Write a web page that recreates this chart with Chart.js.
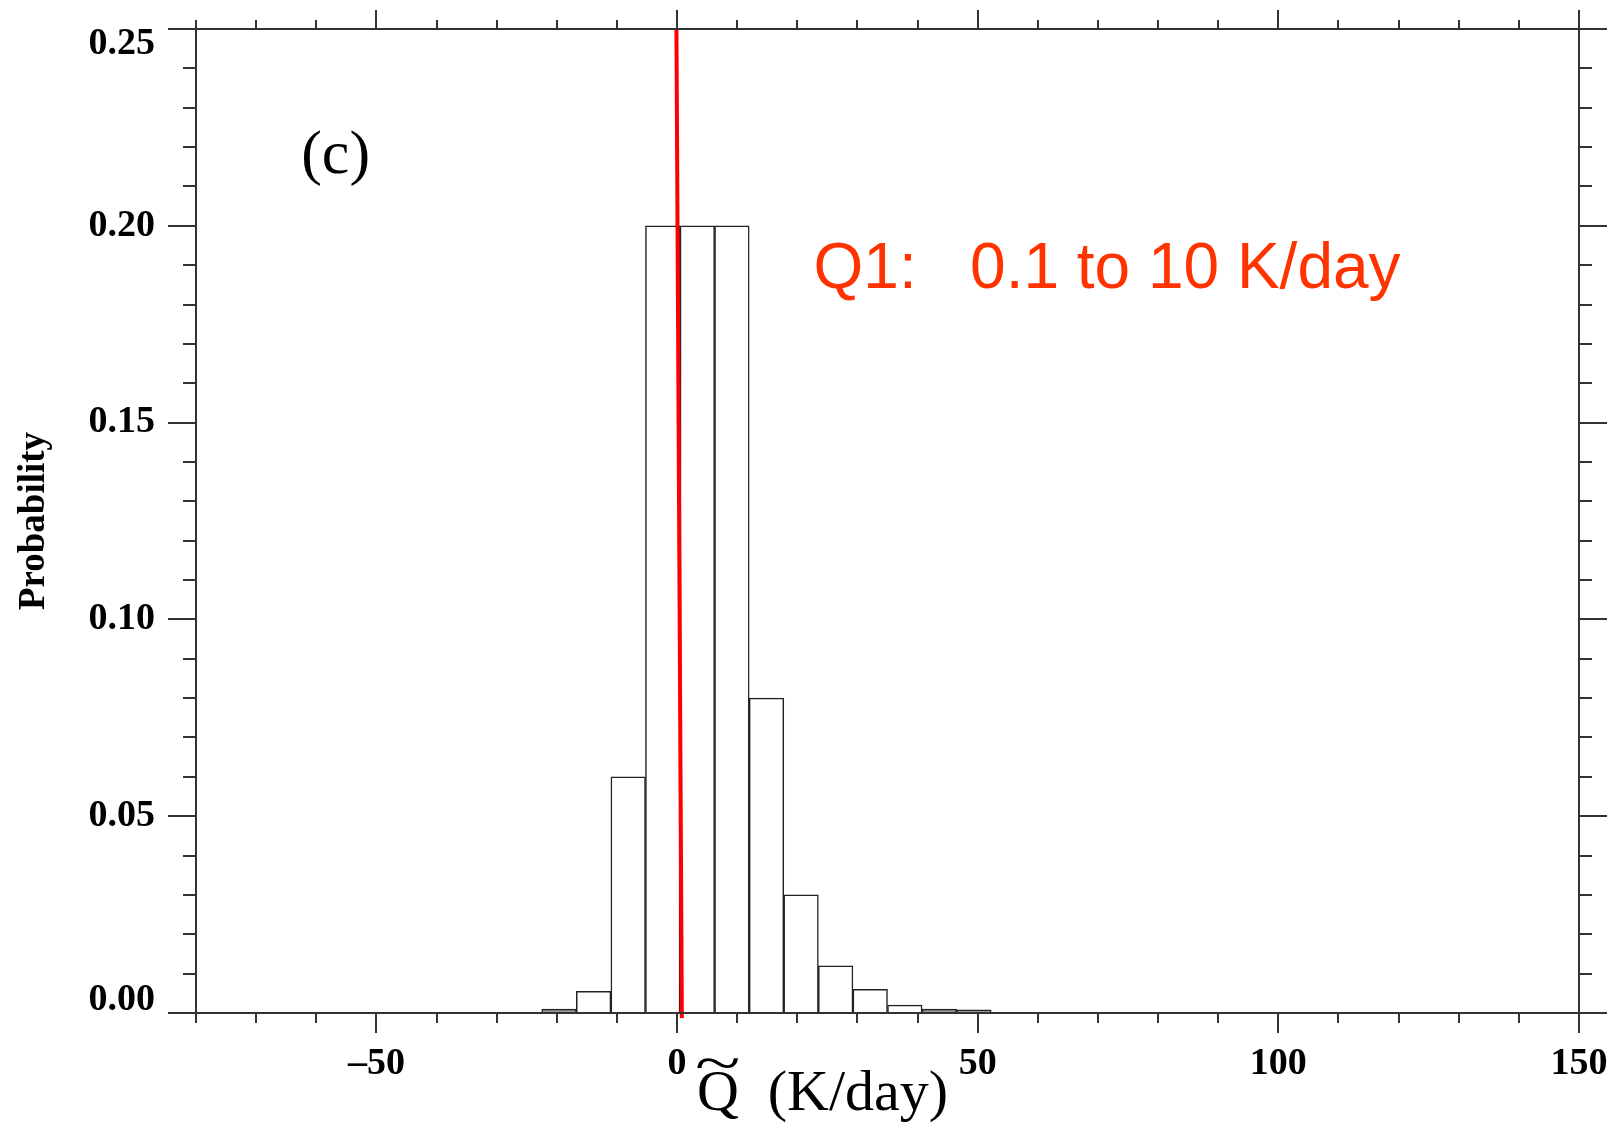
<!DOCTYPE html>
<html>
<head>
<meta charset="utf-8">
<script src="https://cdn.jsdelivr.net/npm/chart.js@4/dist/chart.umd.min.js"></script>
<style>
    html, body { margin: 0; padding: 0; background: #fff; }
    canvas { display: block; }
</style>
</head>
<body>
<canvas id="chart" width="1614" height="1128"></canvas>
<script>
// histogram bins (centres, K/day), bin width 5.75
const binCenters = [-19.625, -13.875, -8.125, -2.375, 3.375, 9.125, 14.875, 20.625, 26.375, 32.125, 37.875, 43.625, 49.375];
const probability = [0.001, 0.0055, 0.060, 0.200, 0.200, 0.200, 0.080, 0.030, 0.012, 0.006, 0.002, 0.001, 0.0008];

// red marker line
const markerX = [-0.1, 0.8];
const markerY = [0.25, -0.0013];

const xMajorTicks = [-50, 0, 50, 100, 150];
const yMajorTicks = [0, 0.05, 0.10, 0.15, 0.20, 0.25];

const panelLabel = '(c)';
const noteText = 'Q1:   0.1 to 10 K/day';
const xTitleSymbol = 'Q';
const xTitleUnit = '  (K/day)';
const yTitle = 'Probability';

const AXIS_COLOR = '#333';
const SERIF = '"Liberation Serif", "Times New Roman", serif';
const SANS = '"Liberation Sans", Arial, sans-serif';

function isMajorX(v) {
    return xMajorTicks.includes(Math.round(v));
}

function isMajorY(v) {
    return yMajorTicks.some((m) => Math.abs(m - v) < 1e-6);
}

// frame on four sides, ticks pointing outwards
const frameTicks = {
    id: 'frameTicks',
    afterDatasetsDraw(chart) {
        const { ctx, chartArea: a, scales: { x, y } } = chart;

        ctx.save();
        ctx.strokeStyle = AXIS_COLOR;
        ctx.lineWidth = 2;
        ctx.beginPath();
        ctx.rect(a.left, a.top, a.right - a.left, a.bottom - a.top);

        x.ticks.forEach((t) => {
            const px = Math.round(x.getPixelForValue(t.value));
            const major = isMajorX(t.value);

            ctx.moveTo(px, a.bottom);
            ctx.lineTo(px, a.bottom + (major ? 20 : 10));
            ctx.moveTo(px, a.top);
            ctx.lineTo(px, a.top - (major ? 19 : 9));
        });

        y.ticks.forEach((t) => {
            const py = Math.round(y.getPixelForValue(t.value));
            const len = isMajorY(t.value) ? 28 : 13;

            ctx.moveTo(a.left, py);
            ctx.lineTo(a.left - len, py);
            ctx.moveTo(a.right, py);
            ctx.lineTo(a.right + len, py);
        });

        ctx.stroke();
        ctx.restore();
    },
    afterDraw(chart) {
        const { ctx, scales: { x, y } } = chart;

        ctx.save();
        ctx.textBaseline = 'alphabetic';
        ctx.textAlign = 'left';

        ctx.fillStyle = '#000';
        ctx.font = `62px ${SERIF}`;
        ctx.fillText(panelLabel, x.getPixelForValue(-62.5), y.getPixelForValue(0.2134));

        // x title: Q with a wide tilde over it, then the unit
        const titleX = x.getPixelForValue(3.3);
        ctx.font = `58px ${SERIF}`;
        ctx.fillText(xTitleSymbol, titleX, 1110);
        const qWidth = ctx.measureText(xTitleSymbol).width;
        ctx.fillText(xTitleUnit, titleX + qWidth, 1110);

        ctx.save();
        ctx.translate(titleX + qWidth / 2, 1082);
        ctx.scale(1.45, 1);
        ctx.textAlign = 'center';
        ctx.fillText('~', 0, 0);
        ctx.restore();

        ctx.fillStyle = '#ff3300';
        ctx.font = `64px ${SANS}`;
        ctx.fillText(noteText, x.getPixelForValue(22.7), y.getPixelForValue(0.1843));

        ctx.restore();
    },
};

const tickFont = { family: SERIF, size: 38, weight: 'bold' };

new Chart(document.getElementById('chart'), {
    type: 'bar',
    data: {
        datasets: [
            {
                type: 'line',
                data: markerX.map((v, i) => ({ x: v, y: markerY[i] })),
                borderColor: '#ff0000',
                borderWidth: 4,
                pointRadius: 0,
                clip: false,
                order: 0,
            },
            {
                data: binCenters.map((v, i) => ({ x: v, y: probability[i] })),
                backgroundColor: (c) => (c.raw && c.raw.y < 0.0015 ? '#999' : '#fff'),
                borderColor: '#222',
                borderWidth: 1.5,
                barPercentage: 1,
                categoryPercentage: 1,
                order: 1,
            },
        ],
    },
    options: {
        responsive: false,
        animation: false,
        devicePixelRatio: 1,
        layout: {
            padding: { left: 0, right: 35, top: 29, bottom: 0 },
        },
        plugins: {
            legend: { display: false },
            tooltip: { enabled: false },
        },
        scales: {
            x: {
                type: 'linear',
                min: -80,
                max: 150,
                offset: false,
                grid: { display: false, drawTicks: false, offset: false },
                border: { display: false },
                ticks: {
                    stepSize: 10,
                    autoSkip: false,
                    maxRotation: 0,
                    padding: 28,
                    color: '#000',
                    font: tickFont,
                    callback: (v) => (isMajorX(v) ? String(Math.round(v)).replace('-', '\u2013') : ''),
                },
                afterFit: (scale) => {
                    scale.height = 115;
                    scale.paddingLeft = 0;
                    scale.paddingRight = 0;
                },
            },
            y: {
                min: 0,
                max: 0.25,
                grid: { display: false, drawTicks: false },
                border: { display: false },
                ticks: {
                    stepSize: 0.01,
                    autoSkip: false,
                    padding: 41,
                    color: '#000',
                    font: (c) => {
                        const v = c.tick ? c.tick.value : 0.1;
                        if (Math.abs(v - 0.25) < 1e-6) return { ...tickFont, lineHeight: 30 / 38 };
                        if (Math.abs(v) < 1e-6) return { ...tickFont, lineHeight: 26 / 38 };
                        return tickFont;
                    },
                    callback: (v) => {
                        if (!isMajorY(v)) return '';
                        const label = v.toFixed(2);
                        if (Math.abs(v - 0.25) < 1e-6) return ['', label];
                        if (Math.abs(v) < 1e-6) return [label, ''];
                        return label;
                    },
                },
                title: {
                    display: true,
                    text: yTitle,
                    color: '#000',
                    font: { family: SERIF, size: 37, weight: 'bold' },
                    padding: { top: 12, bottom: 0 },
                },
                afterFit: (scale) => {
                    scale.width = 196;
                    scale.paddingTop = 0;
                    scale.paddingBottom = 0;
                },
            },
        },
    },
    plugins: [frameTicks],
});
</script>
</body>
</html>
